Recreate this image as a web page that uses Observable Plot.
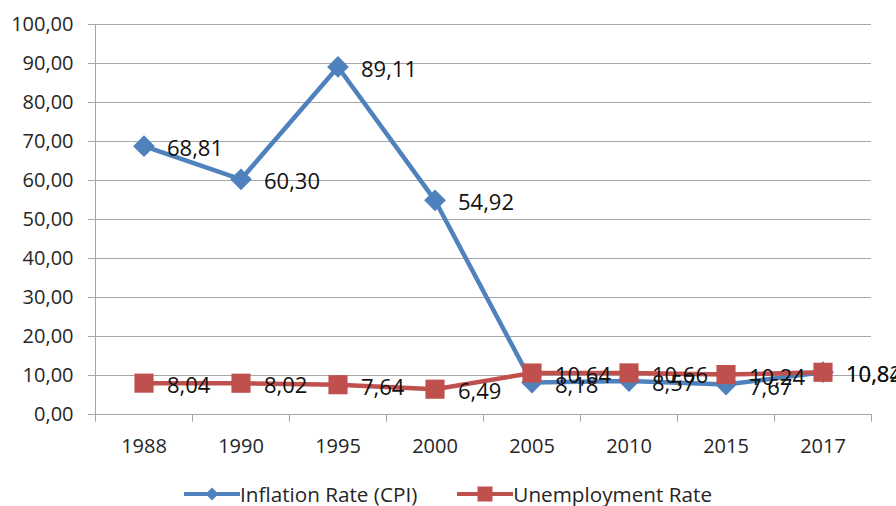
<!DOCTYPE html>
<html>
<head>
<meta charset="utf-8">
<script src="https://cdn.jsdelivr.net/npm/d3@7"></script>
<script src="https://cdn.jsdelivr.net/npm/@observablehq/plot@0.6"></script>
<style>
  html, body { margin: 0; padding: 0; background: #fff; }
  body { width: 896px; height: 506px; overflow: hidden; font-family: "Open Sans", sans-serif; }
  #legend { display: flex; justify-content: center; align-items: center; height: 30px; margin-top: 9px; font-size: 20.7px; color: #262626; }
  #legend .item { display: flex; align-items: center; }
  #legend .item + .item { margin-left: 40px; }
  #legend svg { display: block; }
</style>
</head>
<body>
<div id="chart"></div>
<div id="legend"></div>
<script>
const years = ["1988", "1990", "1995", "2000", "2005", "2010", "2015", "2017"];
const inflation = [68.81, 60.30, 89.11, 54.92, 8.18, 8.57, 7.67, 10.84];
const unemployment = [8.04, 8.02, 7.64, 6.49, 10.64, 10.66, 10.24, 10.82];
const yTicks = [0, 10, 20, 30, 40, 50, 60, 70, 80, 90, 100];
const seriesNames = ["Inflation Rate (CPI)", "Unemployment Rate"];
const colors = ["#4F81BD", "#C0504D"];

const fmt = v => d3.format(".2f")(v).replace(".", ",");

const inflData = years.map((year, i) => ({year, value: inflation[i], series: seriesNames[0]}));
const unempData = years.map((year, i) => ({year, value: unemployment[i], series: seriesNames[1]}));

const W = 896, mL = 95, mR = 25;
const half = (W - mL - mR) / years.length / 2;
const grid = "#a6a6a6";

const chart = Plot.plot({
  width: W,
  height: 470,
  marginLeft: mL,
  marginRight: mR,
  marginTop: 24,
  marginBottom: 56,
  style: {fontFamily: "Open Sans", fontSize: "20px", color: "#262626", background: "#fff", overflow: "visible"},
  x: {type: "band", domain: years, padding: 0, round: false, label: null},
  y: {domain: [0, 100], label: null},
  marks: [
    Plot.gridY(yTicks, {stroke: grid, strokeOpacity: 1}),
    Plot.axisY(yTicks, {tickSize: 7, tickPadding: 15, tickFormat: fmt, stroke: grid, label: null}),
    Plot.ruleX([years[0]], {y1: 0, y2: 100, dx: -half, stroke: grid}),
    Plot.ruleX(years, {y1: 0, y2: -2, dx: -half, stroke: grid}),
    Plot.ruleX([years[years.length - 1]], {y1: 0, y2: -2, dx: half, stroke: grid}),
    Plot.axisX({tickSize: 0, tickPadding: 24, label: null}),
    Plot.line(inflData, {x: "year", y: "value", stroke: colors[0], strokeWidth: 4.5}),
    Plot.dot(inflData, {x: "year", y: "value", symbol: "diamond2", r: 9.8, fill: colors[0], stroke: "none"}),
    Plot.line(unempData, {x: "year", y: "value", stroke: colors[1], strokeWidth: 4.5}),
    Plot.dot(unempData, {x: "year", y: "value", symbol: "square", r: 10.8, fill: colors[1], stroke: "none"}),
    Plot.text(inflData, {x: "year", y: "value", text: d => fmt(d.value), dx: 23, dy: 3, textAnchor: "start", fontSize: 22, fill: "#111"}),
    Plot.text(unempData, {x: "year", y: "value", text: d => fmt(d.value), dx: 23, dy: 3, textAnchor: "start", fontSize: 22, fill: "#111"})
  ]
});
document.getElementById("chart").appendChild(chart);

// Legend
const legend = document.getElementById("legend");
seriesNames.forEach((name, i) => {
  const item = document.createElement("div");
  item.className = "item";
  const marker = i === 0
    ? `<path d="M28,3.5 L34.5,10 L28,16.5 L21.5,10 Z" fill="${colors[0]}"/>`
    : `<rect x="20.5" y="2.5" width="15" height="15" fill="${colors[1]}"/>`;
  item.innerHTML = `<svg width="56" height="20"><line x1="0" y1="10" x2="56" y2="10" stroke="${colors[i]}" stroke-width="4"/>${marker}</svg><span>${name}</span>`;
  legend.appendChild(item);
});
</script>
</body>
</html>
